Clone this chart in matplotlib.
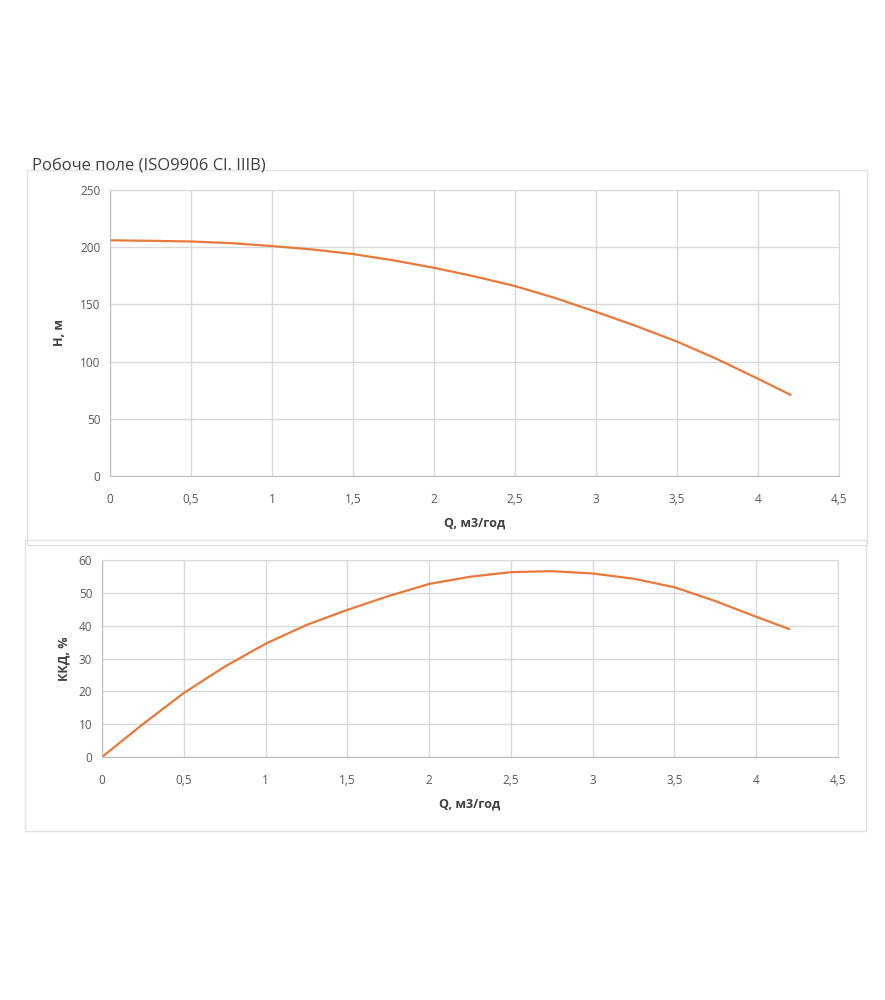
import matplotlib
matplotlib.use("Agg")
import matplotlib.pyplot as plt
from matplotlib.patches import Rectangle
from matplotlib.ticker import FuncFormatter, MultipleLocator

plt.rcParams['font.family'] = ['Open Sans', 'DejaVu Sans']

# Data
q = [0, 0.25, 0.5, 0.75, 1.0, 1.25, 1.5, 1.75, 2.0, 2.25, 2.5, 2.75, 3.0, 3.25, 3.5, 3.75, 4.0, 4.2]
head = [206, 205.6, 205, 203.5, 201, 198, 194, 188.5, 182, 174.5, 166, 155.5, 143.5, 131, 117.5, 102, 85, 71]
eff = [0, 10, 19.5, 27.5, 34.5, 40.2, 44.8, 49, 52.7, 54.9, 56.3, 56.6, 55.9, 54.3, 51.7, 47.5, 42.7, 39]

title = "Робоче поле (ISO9906 Cl. IIIB)"
xlabel = "Q, м3/год"
ylabel_top = "Н, м"
ylabel_bot = "ККД, %"

W, H = 885, 1000
fig = plt.figure(figsize=(W / 100, H / 100), dpi=100)

line_color = "#E9793A"
grid_color = "#d9d9d9"
tick_color = "#595959"
label_color = "#404040"
frame_color = "#e3e3e3"


def fx(px):
    return px / W


def fy(py):
    return 1 - py / H


# frames
fig.patches.append(Rectangle((fx(27), fy(545)), fx(867) - fx(27), fy(170) - fy(545),
                             transform=fig.transFigure, fill=False, edgecolor=frame_color, lw=1))
fig.patches.append(Rectangle((fx(25), fy(831)), fx(866) - fx(25), fy(540) - fy(831),
                             transform=fig.transFigure, fill=False, edgecolor=frame_color, lw=1))

fig.text(fx(32), fy(165), title, fontsize=12, color=label_color, va='center', ha='left')

comma = FuncFormatter(lambda v, p: ("%g" % v).replace('.', ','))


def style(ax, ymax, ystep):
    ax.set_xlim(0, 4.5)
    ax.set_ylim(0, ymax)
    ax.xaxis.set_major_locator(MultipleLocator(0.5))
    ax.yaxis.set_major_locator(MultipleLocator(ystep))
    ax.xaxis.set_major_formatter(comma)
    ax.grid(True, color=grid_color, lw=1)
    ax.set_axisbelow(True)
    for s in ['top', 'right']:
        ax.spines[s].set_color(grid_color)
    ax.spines['left'].set_color("#bfbfbf")
    ax.spines['bottom'].set_color("#bfbfbf")
    ax.tick_params(length=0, labelsize=8.5, labelcolor=tick_color, pad=7)
    ax.tick_params(axis='x', pad=12)


ax1 = fig.add_axes([fx(110), fy(476), fx(839) - fx(110), fy(190) - fy(476)])
ax1.plot(q, head, color=line_color, lw=1.6)
style(ax1, 250, 50)
ax1.set_xlabel(xlabel, fontsize=9, fontweight='bold', color=label_color, labelpad=8)
ax1.set_ylabel(ylabel_top, fontsize=9, fontweight='bold', color=label_color, labelpad=10)

ax2 = fig.add_axes([fx(102), fy(757), fx(838) - fx(102), fy(560) - fy(757)])
ax2.plot(q, eff, color=line_color, lw=1.6)
style(ax2, 60, 10)
ax2.set_xlabel(xlabel, fontsize=9, fontweight='bold', color=label_color, labelpad=8)
ax2.set_ylabel(ylabel_bot, fontsize=9, fontweight='bold', color=label_color, labelpad=6)

fig.savefig("out.png", dpi=100, facecolor='white')
